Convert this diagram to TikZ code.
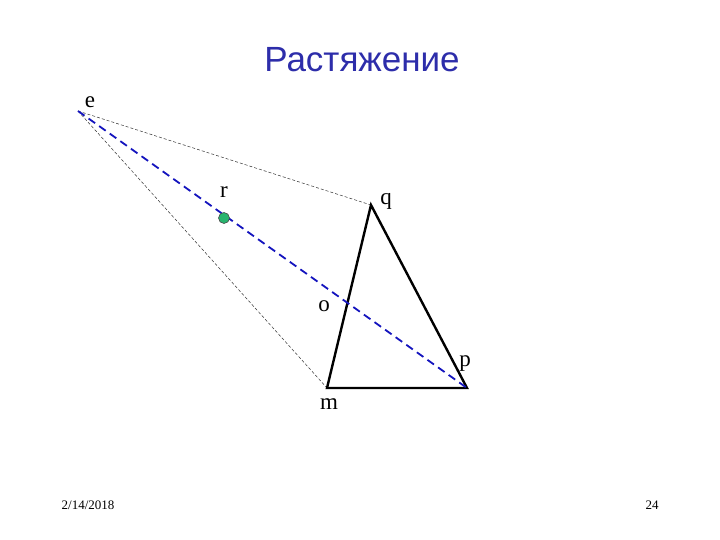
\documentclass[tikz,border=0pt]{standalone}
\usepackage{fontspec}
\setmainfont{Liberation Serif}
\newfontfamily\titlefont{Liberation Sans}
\definecolor{titleblue}{RGB}{45,45,170}
\definecolor{dashblue}{RGB}{20,20,190}
\definecolor{dotgreen}{RGB}{40,180,110}
\begin{document}
\begin{tikzpicture}[x=1pt,y=-1pt,
  lbl/.style={font=\fontsize{23}{23}\selectfont, inner sep=0pt, anchor=base},
  foot/.style={font=\fontsize{13}{13}\selectfont, inner sep=0pt, anchor=base},
  thin dash/.style={draw=black!80, line width=0.5pt, dash pattern=on 3pt off 2pt},
  tri/.style={draw=black, line width=2.4pt, line join=miter},
  bluedash/.style={draw=dashblue, line width=1.8pt, dash pattern=on 8pt off 5pt}]
\useasboundingbox (0,0) rectangle (720,540);
\fill[white] (0,0) rectangle (720,540);
\coordinate (e) at (78,111);
\coordinate (q) at (371,205);
\coordinate (m) at (327,388);
\coordinate (p) at (467,388);
\node[font=\titlefont\fontsize{35}{35}\selectfont, text=titleblue, inner sep=0pt, anchor=base] (title) at (362,72) {Растяжение};
\draw[thin dash] (e) -- (q);
\draw[thin dash] (e) -- (m);
\draw[tri] (q) -- (m) -- (p) -- cycle;
\draw[bluedash] (e) -- (p);
\node[circle, fill=dotgreen, draw=black!70, line width=0.6pt, minimum size=11pt, inner sep=0pt] (r) at (224,218) {};
\node[lbl] (le) at (90,108) {e};
\node[lbl] (lr) at (224,197) {r};
\node[lbl] (lq) at (386,205) {q};
\node[lbl] (lo) at (324,311) {o};
\node[lbl] (lp) at (465,366) {p};
\node[lbl] (lm) at (329,409) {m};
\node[foot] (date) at (88,509) {2/14/2018};
\node[foot] (num) at (652,509) {24};
\end{tikzpicture}
\end{document}
